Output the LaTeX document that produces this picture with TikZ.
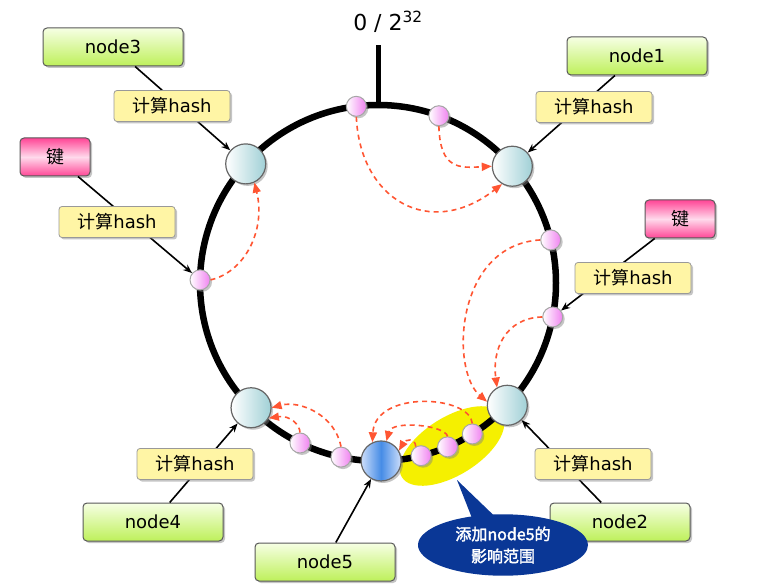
\documentclass[tikz,border=0pt]{standalone}
\usepackage{fontspec}
\setmainfont{DejaVu Sans}
\newfontfamily\cjk[AutoFakeBold=2]{Noto Sans CJK SC}
\usetikzlibrary{arrows.meta,calc,shadows,shapes.geometric,shapes.callouts}

\definecolor{movered}{RGB}{255,85,50}
\definecolor{hashyellow}{RGB}{255,245,165}
\definecolor{limetop}{RGB}{246,255,228}
\definecolor{limebot}{RGB}{190,240,90}
\definecolor{keypink}{RGB}{255,70,150}
\definecolor{keylight}{RGB}{255,218,236}
\definecolor{tealnode}{RGB}{160,208,214}
\definecolor{pinkdot}{RGB}{240,130,240}
\definecolor{calloutblue}{RGB}{10,55,150}
\definecolor{bluenode}{RGB}{70,140,230}
\definecolor{bluelight}{RGB}{205,222,250}
\definecolor{zoneyellow}{RGB}{245,240,0}

\tikzset{
  shade/.style={drop shadow={shadow xshift=2pt,shadow yshift=-2pt,opacity=.45}},
  box/.style={draw=black!65,line width=1pt,rounded corners=4pt,minimum height=38pt,shade},
  nodebox/.style={box,minimum width=140pt,top color=limetop,bottom color=limebot},
  keybox/.style={box,minimum width=70pt,top color=keypink,bottom color=keypink,middle color=keylight},
  hashbox/.style={draw=black!40,line width=.8pt,rounded corners=3pt,fill=hashyellow,
    minimum width=116pt,minimum height=31pt,shade},
  server/.style={circle,draw=black!60,line width=1.2pt,minimum size=40pt,inner sep=0pt,
    left color=white,right color=tealnode,shade},
  newserver/.style={server,left color=bluelight,right color=bluelight,middle color=bluenode},
  keydot/.style={circle,draw=black!35,line width=1pt,minimum size=20pt,inner sep=0pt,
    left color=white,right color=pinkdot,shade},
  hashline/.style={line width=1.6pt,-{Stealth[length=9pt,width=7pt]}},
  move/.style={movered,dash pattern=on 5pt off 4pt,line width=1.6pt,-{Triangle[length=10pt,width=8pt]}},
}

\begin{document}
\begin{tikzpicture}[x=1pt,y=-1pt,font=\fontsize{18}{21}\selectfont]
  \fill[white] (0,0) rectangle (769,588);
  \useasboundingbox (0,0) rectangle (769,588);
  \coordinate (ctr) at (378,283);
  % affected range
  \node[ellipse,fill=zoneyellow,minimum width=118pt,minimum height=58pt,rotate=32] (zone) at (452,446) {};
  % hash ring
  \draw[line width=6.5pt] (ctr) circle[radius=178pt];
  \draw[line width=5pt] ($(ctr)+(0,-178)$) -- (378,45);
  \node (top) at (388,22) {\fontsize{22}{24}\selectfont 0 / 2\textsuperscript{32}};
  % servers
  \node[server] (c1) at ($(ctr)+(-41:178)$) {};
  \node[server] (c3) at ($(ctr)+(-138:178)$) {};
  \node[server] (c4) at ($(ctr)+(135.5:178)$) {};
  \node[server] (c2) at ($(ctr)+(43.4:178)$) {};
  \node[newserver] (c5) at ($(ctr)+(89:178)$) {};
  % keys on the ring
  \node[keydot] (s1) at ($(ctr)+(-97:178)$) {};
  \node[keydot] (s2) at ($(ctr)+(-70:178)$) {};
  \node[keydot] (s3) at ($(ctr)+(-14:178)$) {};
  \node[keydot] (s4) at ($(ctr)+(11:178)$) {};
  \node[keydot] (s5) at ($(ctr)+(181:178)$) {};
  \node[keydot] (s6) at ($(ctr)+(116:178)$) {};
  \node[keydot] (s7) at ($(ctr)+(102:178)$) {};
  \node[keydot] (s8) at ($(ctr)+(76:178)$) {};
  \node[keydot] (s9) at ($(ctr)+(67:178)$) {};
  \node[keydot] (s10) at ($(ctr)+(58:178)$) {};
  % key -> server moves
  \draw[move] (s1.south) .. controls (360,200) and (430,240) .. (c1.240);
  \draw[move] (s2.south) .. controls (440,170) and (460,168) .. (c1.west);
  \draw[move] (s5.east) .. controls (245,272) and (266,230) .. (c3.-65);
  \draw[move] (s3.west) .. controls (455,245) and (450,370) .. (c2.170);
  \draw[move] (s4.west) .. controls (505,318) and (492,350) .. (c2.120);
  \draw[move] (s7.north) .. controls (335,415) and (300,400) .. (c4.east);
  \draw[move] (s6.north) .. controls (300,425) and (290,415) .. (c4.-30);
  \draw[move] (s10.north) .. controls (470,395) and (375,390) .. (c5.115);
  \draw[move] (s9.north) .. controls (445,425) and (392,420) .. (c5.75);
  \draw[move] (s8.120) .. controls (415,437) and (405,440) .. (c5.30);
  % labels
  \node[nodebox] (n3box) at (113,47) {node3};
  \node[nodebox] (n1box) at (637,56) {node1};
  \node[nodebox] (n4box) at (153,522) {node4};
  \node[nodebox] (n2box) at (620,522) {node2};
  \node[nodebox] (n5box) at (325,562) {node5};
  \node[keybox] (keyL) at (55,157) {\cjk 键};
  \node[keybox] (keyR) at (680,219) {\cjk 键};
  \draw[hashline] (n3box) -- (c3);
  \draw[hashline] (keyL) -- (s5);
  \draw[hashline] (n1box) -- (c1);
  \draw[hashline] (keyR) -- (s4);
  \draw[hashline] (n4box) -- (c4);
  \draw[hashline] (n2box) -- (c2);
  \draw[hashline] (n5box) -- (c5);
  \node[hashbox] (h3) at (172,106) {{\cjk 计算}hash};
  \node[hashbox] (hk1) at (117,222) {{\cjk 计算}hash};
  \node[hashbox] (h1) at (594,107) {{\cjk 计算}hash};
  \node[hashbox] (hk2) at (633,278) {{\cjk 计算}hash};
  \node[hashbox] (h4) at (195,464) {{\cjk 计算}hash};
  \node[hashbox] (h2) at (593,464) {{\cjk 计算}hash};
  % callout
  \node[ellipse callout,fill=calloutblue,minimum width=170pt,minimum height=60pt,
    callout absolute pointer={(457,480)},text=white,align=center,
    font=\cjk\bfseries\fontsize{16}{22}\selectfont] (note) at (503,545) {添加node5的\\影响范围};
\end{tikzpicture}
\end{document}
